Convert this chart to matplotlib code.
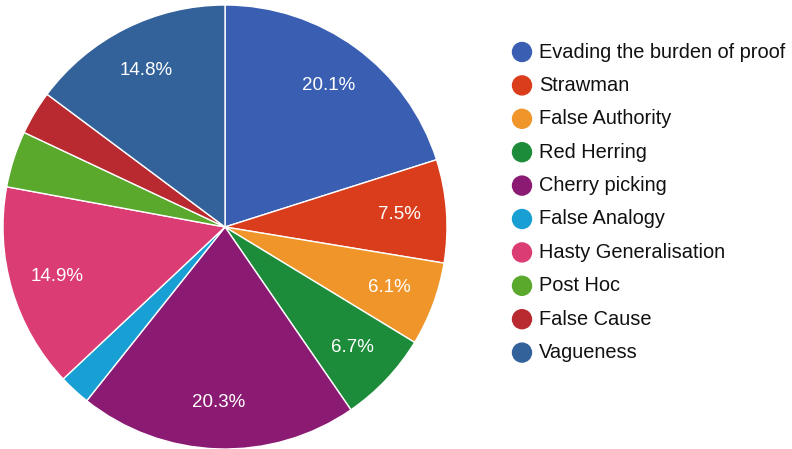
import matplotlib.pyplot as plt
from matplotlib.patches import Ellipse

plt.rcParams['font.family'] = ['Liberation Sans', 'DejaVu Sans']

# Share of each fallacy type (percent)
categories = ["Evading the burden of proof", "Strawman", "False Authority",
              "Red Herring", "Cherry picking", "False Analogy",
              "Hasty Generalisation", "Post Hoc", "False Cause", "Vagueness"]
shares = [20.1, 7.5, 6.1, 6.7, 20.3, 2.3, 14.9, 4.1, 3.2, 14.8]
colors = ["#3a5fb2", "#d93d1c", "#f0952a", "#1d8c3a", "#8b1a73",
          "#189fd3", "#db3c74", "#5aa82c", "#b82a2f", "#33629a"]

fig = plt.figure(figsize=(7.92, 4.49), dpi=100)

# Pie area (square, left side)
W, H = 792, 449
cx, cy, r = 225, 227, 222
ax = fig.add_axes([(cx - r) / W, (H - cy - r) / H, 2 * r / W, 2 * r / H])


def label_pct(p):
    # small slices get no text
    return f"{p:.1f}%" if p >= 5 else ""


wedges, texts, autotexts = ax.pie(
    shares, colors=colors, startangle=90, counterclock=False,
    autopct=label_pct, pctdistance=0.79, radius=1.0,
    wedgeprops=dict(edgecolor="white", linewidth=1.0),
    textprops=dict(color="white", fontsize=13.5),
)
ax.set_xlim(-1, 1)
ax.set_ylim(-1, 1)
ax.set_aspect("equal")
ax.axis("off")

# Legend on the right: coloured dot + label
lx, ly0, step = 522, 52, 33.4
for i, (name, col) in enumerate(zip(categories, colors)):
    y = ly0 + i * step
    fig.patches.append(Ellipse((lx / W, 1 - y / H), 19 / W, 19 / H, color=col,
                               transform=fig.transFigure, figure=fig))
    fig.text(539 / W, 1 - y / H, name, fontsize=14.4, color="#111111",
             va="center", ha="left")

fig.savefig("out.png", dpi=100)
